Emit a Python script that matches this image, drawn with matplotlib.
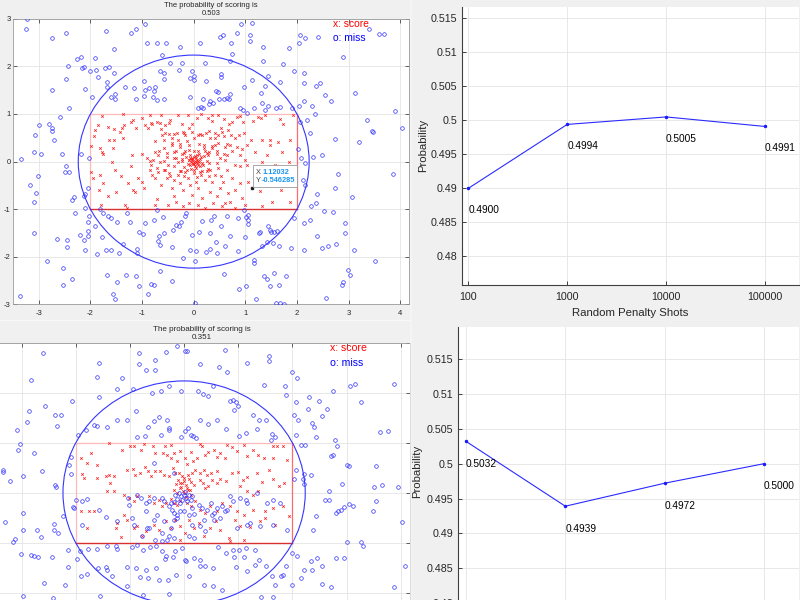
import matplotlib
matplotlib.use('Agg')
import matplotlib.pyplot as plt
from matplotlib.patches import Circle, Rectangle
from matplotlib.lines import Line2D
from matplotlib.transforms import IdentityTransform
import numpy as np

plt.rcParams['font.family'] = ['Liberation Sans', 'DejaVu Sans']
plt.rcParams['axes.unicode_minus'] = False

# ---------------- data ----------------
scoring_prob = [0.503, 0.351]

a_score = [(-1.77,0.95),(-1.37,0.99),(-1.18,0.87),(-1.22,0.83),(-1.01,0.92),(-0.85,0.98),(-0.63,0.97),(-0.46,0.87),(-0.30,0.98),(-0.12,0.97),(0.06,0.91),(0.14,0.99),(0.28,0.92),(0.36,0.97),(0.48,0.98),(0.58,0.90),(0.74,0.84),(0.90,0.96),(0.83,0.94),(0.96,0.84),(1.15,0.85),(1.24,0.94),(1.31,0.91),(1.39,0.98),(1.68,0.90),(1.72,0.78),(1.92,0.98),
(-1.92,0.66),(-1.93,0.54),(-1.86,0.77),(-1.66,0.73),(-1.54,0.68),(-1.39,0.71),(-1.35,0.77),(-1.43,0.62),(-1.64,0.45),(-1.54,0.45),(-1.37,0.49),(-1.11,0.71),(-0.94,0.77),(-0.88,0.70),(-0.83,0.80),(-0.72,0.83),(-0.63,0.69),(-0.62,0.56),(-0.56,0.77),(-0.48,0.57),(-0.43,0.49),(-0.33,0.59),(-0.31,0.45),(-0.20,0.63),(-0.17,0.55),(-0.10,0.70),(-0.04,0.63),(0.01,0.50),(0.09,0.55),(0.16,0.56),(0.23,0.59),(0.32,0.49),(0.41,0.59),(0.48,0.55),(0.54,0.63),(0.67,0.66),(0.72,0.55),(0.80,0.50),(0.87,0.55),(0.98,0.59),(1.11,0.45),(1.32,0.45),(1.48,0.45),(1.48,0.35),(1.63,0.42),(1.87,0.45),
(-1.98,0.33),(-1.82,0.28),(-1.77,0.21),(-1.75,0.15),(-1.59,0.00),(-1.56,0.28),(-1.22,-0.09),(-1.01,0.17),(-0.91,0.07),(-0.85,0.01),(-0.82,-0.07),(-0.75,0.21),(-0.69,0.14),(-0.65,0.00),(-0.57,0.28),(-0.52,0.10),(-0.49,-0.07),(-0.43,0.35),(-0.39,0.21),(-0.35,0.07),(-0.31,-0.01),(-0.27,0.31),(-0.22,0.17),(-0.17,0.22),(-0.10,0.35),(-0.07,0.14),(-0.04,0.07),
(-0.03,0.03),(0.01,0.00),(0.04,0.07),(0.06,-0.03),(0.09,0.01),(-0.01,-0.06),(-0.05,-0.01),(0.06,0.13),(0.12,0.06),(0.03,-0.10),(-0.07,-0.07),(0.08,-0.07),(0.16,-0.03),(0.00,0.10),(0.10,0.15),(-0.10,0.03),(0.02,0.02),(-0.02,-0.03),(0.05,0.00),(-0.04,0.05),(0.07,0.04),(0.00,-0.05),(0.11,-0.01),(-0.08,0.08),(0.03,0.12),(-0.12,-0.04),(0.14,0.09),(0.04,-0.14),(-0.15,0.10),(0.18,-0.08),(-0.06,-0.16),(0.20,0.12),(-0.18,-0.12),(0.25,0.02),(-0.22,0.05),(0.08,0.22),(0.12,-0.22),(-0.10,0.24),(-0.25,-0.20),(0.28,-0.15),(0.30,0.20),
(0.19,0.35),(0.22,0.22),(0.28,0.14),(0.36,0.28),(0.41,0.35),(0.45,0.17),(0.51,0.07),(0.60,0.31),(0.64,0.14),(0.71,0.35),(0.75,0.22),(0.83,0.31),(0.90,0.14),(0.94,0.27),(1.03,0.35),(0.80,-0.07),(0.90,-0.10),(1.00,0.03),(1.03,-0.08),
(-1.82,-0.28),(-1.75,-0.45),(-1.84,-0.59),(-1.79,-0.91),(-1.17,-0.59),(-1.14,-0.63),(-1.01,-0.42),(-0.96,-0.56),(-0.85,-0.17),(-0.80,-0.28),(-0.75,-0.35),(-0.69,-0.22),(-0.63,-0.49),(-0.57,-0.17),(-0.52,-0.35),(-0.48,-0.24),(-0.43,-0.56),(-0.39,-0.73),(-0.38,-0.38),(-0.30,-0.28),(-0.27,-0.45),(-0.20,-0.59),(-0.17,-0.21),(-0.12,-0.35),(-0.07,-0.49),(-0.04,-0.70),(0.01,-0.24),(0.04,-0.42),(0.09,-0.56),(0.14,-0.28),(0.17,-0.77),(0.22,-0.38),(0.25,-0.20),(0.32,-0.63),(0.36,-0.42),(0.41,-0.28),(0.45,-0.73),(0.51,-0.56),(0.56,-0.42),(0.61,-0.87),(0.67,-0.66),(0.75,-0.35),(0.80,-0.59),(0.90,-0.45),(0.93,-0.77),(1.06,-0.42),(1.00,-0.91),(1.29,-0.62),(1.48,-0.45),(1.70,-0.59),(1.87,-0.84),(1.84,-0.28),(-1.33,-0.91),(-1.30,-0.98),(-0.75,-0.91),(-0.72,-0.78),(-0.49,-0.91),(-0.35,-0.84),(-0.20,-0.94),(-0.10,-0.87),(0.09,-0.91),(0.22,-0.98),(0.38,-0.87),(0.54,-0.94),(0.71,-0.84),(0.80,-0.97),(1.32,-0.94),(1.51,-0.84),(-1.98,-0.21),(-1.95,-0.35),(-1.53,-0.17),(-1.40,-0.31),(-1.66,-0.73),(-1.50,-0.63),(-1.20,0.14),(-1.07,-0.35),(-1.27,-0.45),(1.71,0.21),(1.84,0.00),(1.58,-0.07),(1.32,0.00),(1.19,0.21),(1.42,0.14),
(-0.81,0.78),(-0.65,0.81),(-0.47,0.80),(-0.22,0.78),(-0.03,0.78),(0.36,0.85),(0.52,0.71),(0.68,0.78),(-0.55,0.60),(-0.39,0.57),(-0.19,0.60),(0.13,0.57),(0.29,0.64),(0.42,0.50),(0.58,0.53),(-0.74,0.43),(-0.58,0.46),(-0.42,0.39),(-0.26,0.36),(-0.13,0.43),(0.10,0.36),(0.19,0.29),(0.36,0.32),(0.48,0.39),(0.65,0.36),(-0.68,0.22),(-0.52,0.18),(-0.35,0.22),(-0.19,0.18),(0.00,0.22),(0.26,0.18),(0.45,0.22),(0.58,0.15),(-0.78,0.04),(-0.58,0.01),(-0.39,0.08),(-0.22,0.01),(-0.10,0.04),(0.13,-0.10),(0.29,-0.03),(0.45,-0.03),(0.61,0.04),(-0.71,-0.13),(-0.55,-0.17),(-0.39,-0.10),(-0.26,-0.20),(-0.13,-0.17),(0.00,-0.17),(0.16,-0.20),(0.32,-0.17),(0.48,-0.13),(0.65,-0.17),(-0.45,-0.31),(-0.19,-0.31),(0.07,-0.32),(0.29,-0.31),(0.52,-0.31)]

a_miss = [(-3.23,3.0),(-3.24,2.78),(-2.75,2.60),(-2.47,2.69),(-1.69,2.74),(-1.21,2.71),(-1.12,2.78),(-0.95,2.88),(-0.90,2.50),(-0.72,2.48),(-0.53,2.50),(-0.27,2.41),(-0.61,2.24),(0.13,2.48),(0.51,2.61),(0.57,2.66),(0.92,2.88),(1.13,2.90),(1.10,2.66),(1.10,2.53),(0.83,2.71),(0.72,2.50),(1.35,2.41),(1.84,2.38),(2.06,2.66),(2.16,2.59),(2.41,2.62),(2.03,2.48),(2.90,2.20),(3.40,2.78),(3.59,2.67),(3.68,2.67),
(-2.74,1.50),(-2.47,1.73),(-2.44,2.01),(-2.27,2.15),(-2.19,2.19),(-2.17,1.96),(-2.12,1.99),(-2.01,1.90),(-1.92,2.18),(-1.90,1.92),(-1.86,1.77),(-1.71,1.96),(-1.65,1.99),(-1.55,1.85),(-1.54,2.36),(-1.68,1.68),(-2.10,1.53),(-1.97,1.36),(-1.60,1.35),(-1.52,1.32),(-1.52,1.41),(-1.68,1.56),(-1.34,1.57),(-1.16,1.54),(-1.12,1.32),(-0.97,1.70),(-0.95,1.50),(-0.86,1.55),(-0.77,1.48),(-0.75,1.57),(-0.97,1.38),(-0.79,1.36),(-0.58,1.31),(-0.71,1.29),(-0.58,1.87),(-0.57,1.73),(-0.66,1.90),(-0.45,2.08),(-0.23,2.06),(-0.29,1.92),(-0.08,1.76),(0.01,1.71),(-0.03,1.90),(0.00,1.80),(-0.08,1.36),(0.22,2.06),(0.23,1.69),(0.18,1.31),(0.09,1.13),(0.14,1.15),(0.18,1.13),(0.32,1.28),(0.30,1.21),(0.37,1.24),(0.44,1.48),(0.48,1.47),(0.49,1.31),(0.58,1.31),(0.68,1.31),(0.65,1.34),(0.71,1.42),(0.52,1.84),(0.53,1.77),(0.75,2.25),(0.70,2.11),(0.97,1.56),(1.13,1.71),(1.30,1.45),(1.39,1.59),(1.34,2.12),(1.44,1.80),(1.73,2.04),(1.68,1.68),(1.95,1.90),(2.13,1.87),(2.14,1.64),(2.37,1.59),(2.45,1.64),(2.55,1.40),(2.66,1.27),(3.13,1.43),(2.29,1.17),(2.34,0.99),(2.14,1.27),(1.90,1.13),(2.03,1.17),(1.68,1.15),(1.60,1.12),(1.43,1.17),(1.32,1.24),(1.39,1.08),(1.16,1.13),(0.89,1.12),(0.95,1.08),(1.03,1.01),
(3.35,0.87),(3.90,1.06),(4.03,0.70),(3.45,0.64),(3.47,0.62),(3.21,0.41),(2.73,0.47),(2.26,0.59),(2.19,0.87),(2.05,0.84),(2.48,0.14),(2.32,0.10),(2.16,-0.03),(2.08,0.07),(2.02,0.26),(2.79,-0.27),(2.73,-0.55),(3.06,-0.75),(3.86,-0.27),(2.12,-0.38),(2.16,-0.49),(2.39,-0.69),(2.37,-0.87),(2.27,-0.94),(1.95,-1.19),(2.13,-1.29),(2.26,-1.22),(2.52,-1.03),(2.69,-1.05),(2.39,-1.56),(2.48,-1.82),(2.61,-1.77),(2.75,-1.73),(2.93,-1.50),(2.93,-1.28),(3.11,-1.85),(3.52,-2.08),(2.99,-2.27),(3.03,-2.39),(2.87,-2.59),(2.90,-2.52),(2.57,-2.87),(2.14,-1.85),(1.88,-1.82),(1.78,-2.40),(1.65,-2.59),(1.75,-2.99),(1.60,-2.96),(1.68,-2.96),(1.56,-2.33),(1.41,-2.47),(1.47,-2.62),(1.37,-2.40),(1.21,-2.89),(1.16,-2.06),(1.17,-2.13),(1.01,-2.61),(0.87,-2.68),(1.00,-1.59),(0.85,-1.87),(1.32,-1.77),(1.42,-1.69),(1.29,-1.47),(1.43,-1.36),(1.47,-1.43),(1.50,-1.47),(1.56,-1.47),(1.62,-1.45),(1.26,-1.50),(1.65,-1.78),(1.54,-1.70),(1.06,-1.22),(1.05,-1.31),(1.06,-1.12),(0.97,-1.01),(1.01,-1.17),(0.85,-1.19),(0.65,-1.14),(0.71,-1.57),(0.61,-1.78),(0.45,-1.91),(0.23,-1.89),(0.03,-2.08),(0.05,-1.87),(0.31,-1.84),(0.44,-1.68),(0.32,-1.50),(0.16,-1.24),(0.34,-1.22),(0.39,-1.15),(0.52,-1.35),(0.10,-1.47),(-0.03,-1.55),(-0.08,-1.85),(-0.21,-2.03),(-0.24,-1.26),(-0.15,-1.08),(-0.17,-1.15),(-0.29,-1.36),(-0.35,-1.34),(-0.41,-1.43),(-0.42,-1.80),(-0.58,-1.50),(-0.65,-1.75),(-0.68,-1.56),(-0.69,-1.66),(-0.76,-1.22),(-0.59,-1.17),(-0.71,-1.01),(-0.94,-1.29),(-1.05,-1.47),(-0.99,-1.52),(-1.23,-1.26),(-1.29,-1.08),(-1.10,-1.84),(-1.10,-1.92),(-1.37,-1.73),(-1.45,-1.92),(-1.69,-1.85),(-1.60,-1.85),(-1.48,-1.26),(-1.61,-1.19),(-1.66,-1.14),(-1.77,-1.59),(-1.87,-1.94),(-2.10,-1.85),(-2.05,-1.56),(-2.05,-1.45),(-2.05,-1.26),(-1.92,-1.36),(-2.13,-1.64),(-2.21,-1.54),(-2.03,-1.15),(-2.10,-0.98),(-2.10,-0.68),(-2.12,-0.73),(-2.05,-0.55),(-1.82,-1.00),(-1.75,-1.08),(-2.46,-1.64),(-2.46,-1.80),(-2.65,-1.63),(-2.29,-1.07),(-2.35,-0.80),(-2.31,-0.75),(-2.41,-0.21),(-2.48,-0.10),(-2.50,-0.21),(-2.55,0.16),(-2.19,0.17),(-2.03,0.07),(-2.58,0.94),(-2.42,1.12),(-2.74,0.65),(-2.71,0.45),(-2.81,0.78),(-2.75,0.70),(-2.99,0.77),(-3.08,0.56),(-3.10,0.21),(-2.95,0.17),(-3.34,0.06),(-3.01,-0.30),(-3.17,-0.50),(-3.06,-0.65),(-3.10,-0.84),(-3.10,-1.49),(-2.84,-2.08),(-2.54,-2.24),(-2.53,-2.60),(-2.35,-2.47),(-3.37,-2.82),(-1.68,-2.38),(-1.56,-2.78),(-1.53,-2.88),(-1.48,-2.52),(-1.32,-2.39),(-1.11,-2.41),(-1.06,-2.61),(-0.89,-2.78),(-0.83,-2.57),(-0.76,-2.59),(-0.65,-2.29),(-0.42,-2.50),(0.02,-2.96),(0.59,-2.36)]

b_score = [(-1.71,0.79),(-1.91,0.69),(-1.79,0.59),(-1.61,0.56),(-1.39,0.99),(-1.14,0.86),(-0.99,0.93),(-0.93,0.94),(-0.80,0.85),(-0.74,0.98),(-0.57,0.94),(-0.53,0.79),(-0.36,0.94),(-0.25,0.96),(-0.39,0.79),(-0.31,0.76),(-0.24,0.69),(-0.19,0.79),(-0.13,0.63),(-0.07,0.83),(0.02,0.69),(0.06,0.58),(0.12,0.81),(0.17,0.63),(0.24,0.69),(0.29,0.98),(0.33,0.93),(0.39,0.76),(0.45,0.81),(0.55,0.86),(0.60,0.71),(0.67,0.79),(0.76,0.69),(0.80,0.96),(0.88,0.91),(0.98,0.83),(1.10,0.96),(1.16,0.74),(1.28,0.85),(1.37,0.75),(1.47,0.69),(1.64,0.93),(1.72,0.94),(1.83,0.94),(1.64,0.69),(1.90,0.65),
(-1.88,0.38),(-1.85,0.29),(-1.60,0.29),(-1.45,0.34),(-1.39,0.36),(-1.29,0.33),(-1.37,0.19),(-1.42,0.03),(-1.29,0.03),(-1.05,0.45),(-0.94,0.47),(-0.90,0.36),(-0.82,0.39),(-0.73,0.51),(-0.67,0.43),(-0.62,0.34),(-0.53,0.43),(-0.45,0.43),(-0.37,0.36),(-0.28,0.33),(-0.20,0.49),(-0.16,0.39),(-0.12,0.26),(-0.08,0.19),(-0.04,0.33),(-0.01,0.23),(0.04,0.16),(0.09,0.27),(0.12,0.21),(-0.07,0.09),(-0.02,0.03),(0.02,-0.01),(0.07,0.06),(0.12,-0.04),(-0.13,-0.01),(-0.19,0.06),
(-0.05,0.12),(0.05,0.10),(0.00,0.30),(-0.10,0.40),(0.10,0.05),(-0.15,0.18),(0.18,0.15),(0.03,-0.08),(-0.03,0.20),(0.08,0.35),
(0.15,0.39),(0.21,0.46),(0.29,0.39),(0.36,0.46),(0.42,0.36),(0.50,0.39),(0.60,0.43),(0.30,0.26),(0.35,0.19),(0.39,0.09),(0.45,0.13),(0.52,0.26),(0.61,0.19),(0.67,0.27),(0.78,0.23),(0.88,0.39),(0.99,0.41),(1.09,0.26),(1.17,0.31),(1.34,0.39),(1.44,0.21),(1.56,0.45),(1.65,0.27),(1.76,0.13),(1.85,0.19),(1.04,0.13),(1.16,0.03),(1.28,-0.04),(1.37,0.03),
(-1.11,-0.04),(-1.02,-0.11),(-0.93,-0.17),(-0.87,-0.07),(-0.65,-0.07),(-0.56,-0.21),(-0.47,-0.14),(-0.40,-0.27),(-0.34,-0.21),(-0.25,-0.13),(-0.19,-0.21),(-0.13,-0.24),(-0.07,-0.17),(0.06,-0.21),(0.12,-0.27),(0.21,-0.17),(0.30,-0.34),(0.39,-0.41),(0.48,-0.27),(0.61,-0.37),(0.70,-0.21),(0.85,-0.27),(0.98,-0.37),(1.10,-0.44),(1.28,-0.34),(1.50,-0.37),(1.65,-0.31),(1.83,-0.27),(1.93,-0.47),
(-1.91,-0.37),(-1.75,-0.37),(-1.66,-0.37),(-1.79,-0.71),(-1.26,-0.71),(-1.23,-0.61),(-1.11,-0.44),(-1.05,-0.54),(-0.93,-0.71),(-0.87,-0.66),(-0.77,-0.87),(-0.71,-0.77),(-0.56,-0.64),(-0.47,-0.74),(-0.34,-0.57),(-0.25,-0.71),(-0.16,-0.54),(-0.07,-0.67),(0.02,-0.81),(0.09,-0.54),(0.18,-0.71),(0.27,-0.61),(0.36,-0.87),(0.48,-0.71),(0.58,-0.57),(0.67,-0.74),(0.82,-0.91),(0.94,-0.54),(1.04,-0.67),(1.10,-0.94),(1.22,-0.69),(1.40,-0.57),(1.50,-0.51),(1.68,-0.64),(-1.17,-0.89),(-0.07,-0.94),(0.85,-0.97)]

b_miss = [(-0.56,0.59),(-0.19,0.39),(-0.16,-0.04),(-0.10,-0.01),(-0.06,-0.07),(-0.01,-0.04),(0.04,-0.11),(0.09,-0.04),(-0.04,-0.14),(-0.13,-0.13),(0.02,0.01),(0.06,-0.17),(0.12,-0.14),(0.15,-0.07),(-0.08,-0.21),(-0.19,-0.19),(-0.25,-0.21),
(-0.87,-0.04),(-0.80,-0.11),(-1.04,-0.11),(-1.02,-0.24),(-0.71,-0.21),(-0.65,-0.17),(-0.56,-0.11),(-0.40,-0.11),(-0.37,-0.17),(-0.28,-0.27),(-0.22,-0.34),(-0.19,-0.41),(-0.13,-0.44),(-0.07,-0.37),(-0.01,-0.37),(0.09,-0.44),(0.15,-0.31),(0.19,-0.42),(0.27,-0.24),(0.33,-0.31),(0.42,-0.34),(0.50,-0.21),(0.55,-0.41),(0.61,-0.31),(0.70,-0.27),(0.79,-0.35),(0.85,-0.06),(0.91,-0.17),(1.04,-0.11),(1.15,-0.14),(1.16,-0.21),(1.34,-0.01),(1.53,-0.21),(1.65,-0.15),(1.77,-0.21),(1.90,-0.74),(1.65,-0.64),(1.40,-0.66),(1.16,-0.64),(1.22,-0.61),(0.98,-0.71),(0.76,-0.37),(0.67,-0.51),(0.52,-0.44),(0.55,-0.54),(0.36,-0.54),(0.29,-0.67),(0.39,-0.77),(0.15,-0.64),(0.09,-0.87),(0.18,-0.91),(-0.13,-0.51),(-0.19,-0.54),(-0.25,-0.71),(-0.28,-0.87),(-0.19,-0.91),(-0.40,-0.81),(-0.37,-0.57),(-0.50,-0.44),(-0.56,-0.54),(-0.71,-0.37),(-0.68,-0.71),(-0.65,-0.71),(-0.77,-0.87),(-0.93,-0.64),(-0.96,-0.51),(-1.23,-0.57),(-1.45,-0.49),(-1.57,-0.34),(-1.88,-0.64),(-1.88,-0.17),(-1.79,-0.13),(-2.00,-0.14),(-0.53,-0.94),(-0.40,-0.96),(-0.31,-0.94),
(-2.60,2.79),(-0.14,2.94),(0.01,2.84),(0.05,2.84),(-0.34,2.81),(0.75,2.85),(-0.83,2.79),(-0.83,2.57),(-0.54,2.65),(-0.70,2.45),(-0.53,2.45),(-1.57,2.59),(0.30,2.57),(0.65,2.51),(0.80,2.41),(1.17,2.59),(1.56,2.74),(1.56,2.63),(1.99,2.41),(2.08,2.29),(-2.83,2.26),(-1.60,2.31),(-1.15,2.29),(-1.24,2.07),(-2.07,1.84),(-1.57,1.91),(-0.94,2.07),(-0.42,2.03),(-0.60,1.99),(-0.28,2.13),(-0.05,2.03),(0.26,2.03),(0.35,1.98),(0.44,1.93),(0.53,2.13),(0.84,1.84),(0.90,1.86),(0.96,1.81),(0.99,1.73),(0.92,1.66),(1.48,2.16),(1.87,2.13),(1.88,1.96),(2.06,1.81),(2.30,1.91),(2.49,1.83),(2.74,2.03),(3.07,2.13),(3.15,2.17),(3.26,1.81),(3.87,2.18),(2.28,1.67),(2.63,1.67),(2.55,1.54),(2.10,1.46),(2.03,1.56),(2.37,1.39),(2.40,1.31),(2.44,1.11),(2.79,1.05),(2.82,0.94),(2.74,0.76),(2.71,0.74),(3.00,0.56),(3.05,0.53),(3.54,0.53),(3.77,1.24),(3.61,1.21),(3.94,0.11),(4.03,-0.59),(3.66,0.15),(3.51,0.11),(3.54,-0.16),(3.49,-0.36),(3.11,-0.26),(3.05,-0.23),(2.95,-0.29),(2.89,-0.34),(2.85,-0.37),(2.81,-0.41),(2.68,-0.14),(2.60,-0.14),(2.68,0.04),(2.91,0.18),(2.44,-0.47),(2.38,-0.75),(3.01,-0.99),(3.26,-0.99),(3.30,-1.06),(4.08,-1.46),(2.22,0.38),(2.34,0.36),(2.19,0.27),(2.21,0.18),(2.06,0.45),(2.03,0.27),(2.24,0.96),(2.16,0.96),(2.07,1.16),(1.63,1.18),(1.60,1.05),(1.67,1.11),(1.51,1.46),(1.39,1.46),(1.27,1.56),(1.35,1.28),(1.14,1.19),(1.02,1.13),(0.78,1.27),(0.60,1.46),(0.45,1.38),(0.29,1.45),(0.22,1.09),(0.16,1.13),(0.13,1.16),(0.07,1.29),(0.01,1.23),(-0.05,1.11),(-0.27,1.29),(-0.28,1.25),(-0.42,1.15),(-0.32,1.46),(-0.46,1.51),(-0.56,1.44),(-0.67,1.31),(-0.87,1.11),(-0.72,1.13),(-0.89,1.63),(-1.06,1.46),(-1.24,1.45),(-1.43,1.31),(-1.60,1.33),(-1.66,1.35),(-1.81,1.26),(-1.96,1.16),(-2.09,0.71),(-2.12,0.56),(-2.09,0.38),(-2.38,0.15),(-2.36,0.12),(-2.41,-0.62),(-2.32,-0.81),(-2.06,-0.28),(-2.04,-0.31),(-2.23,-0.47),(-2.97,0.33),(-2.97,-0.41),(-3.06,0.86),(-3.03,0.98),(-3.09,1.26),(-2.78,0.79),(-2.63,0.44),(-2.57,1.73),(-2.87,1.63),(-2.90,1.41),(-2.38,1.55),(-2.27,1.56),(-2.35,1.33),(-3.35,0.46),(-3.35,0.41),(-3.21,0.23),(-3.30,-0.59),(-3.12,-0.92),(-3.15,-0.99),(-2.98,-0.74),(-2.72,-0.75),(-2.64,-0.89),(-2.41,-0.75),(-3.01,-1.23),(-2.83,-1.24),(-2.78,-1.27),(-2.70,-1.29),(-2.44,-1.29),(-2.58,-1.81),(-2.20,-1.84),(-2.14,-1.49),(-2.14,-1.14),(-1.98,-1.33),(-1.92,-1.17),(-1.77,-1.13),(-1.60,-1.13),(-1.42,-1.07),(-1.26,-1.07),(-1.24,-1.13),(-1.59,-1.51),(-1.44,-1.49),(-1.42,-1.54),(-1.79,-1.62),(-1.91,-1.67),(-1.33,-1.67),(-1.06,-1.49),(-0.97,-1.09),(-0.87,-1.04),(-0.75,-1.14),(-0.63,-1.09),(-0.51,-1.07),(-0.40,-1.17),(-0.36,-1.33),(-0.33,-1.26),(-0.88,-1.51),(-0.71,-1.54),(-0.82,-1.69),(-0.67,-1.71),(-0.51,-1.51),(-0.47,-1.74),(-0.17,-1.17),(-0.21,-1.29),(-0.03,-1.11),(0.01,-1.34),(0.03,-1.37),(0.19,-1.31),(0.29,-1.34),(0.29,-1.47),(0.39,-1.47),(0.53,-1.51),(0.09,-1.67),(-0.15,-1.65),(-0.30,-1.74),(0.53,-1.87),(0.70,-1.95),(0.36,-1.84),(0.62,-1.09),(0.78,-1.21),(0.90,-1.14),(1.02,-1.14),(1.14,-1.11),(1.30,-1.14),(1.39,-1.34),(1.30,-1.44),(0.93,-1.29),(1.10,-1.29),(0.96,-1.49),(1.17,-1.57),(1.51,-1.46),(1.62,-1.66),(1.67,-1.84),(1.82,-1.64),(1.88,-1.47),(2.00,-1.21),(2.08,-1.27),(2.34,-1.37),(2.46,-1.31),(2.55,-1.47),(2.80,-1.31),(2.95,-1.31),(2.21,-1.55),(2.37,-1.55),(2.16,-1.71),(2.00,-1.84),(1.79,-1.66),(2.55,-1.83),(2.71,-1.89),(3.87,-1.89),(-2.97,-2.07),(-2.42,-2.11),(-1.56,-2.07),(-1.06,-1.87),(-0.75,-2.04),(-0.27,-2.02),(1.42,-2.09),(1.65,-2.09)]

datatip_point = (1.12032, -0.546285)

shots = [100, 1000, 10000, 100000]
shot_labels = ['100', '1000', '10000', '100000']
prob_top = [0.4900, 0.4994, 0.5005, 0.4991]
prob_bottom = [0.5032, 0.4939, 0.4972, 0.5000]
prob_ticks = [0.48, 0.485, 0.49, 0.495, 0.5, 0.505, 0.51, 0.515]
prob_tick_labels = ['0.48', '0.485', '0.49', '0.495', '0.5', '0.505', '0.51', '0.515']

# ---------------- figure ----------------
W, H = 800, 600
fig = plt.figure(figsize=(8, 6), dpi=100, facecolor='#f0f0f0')
TXT = '#262626'


def px_axes(l, t, r, b):
    return fig.add_axes([l / W, 1 - b / H, (r - l) / W, (b - t) / H])


def scatter_panel(ax, score, miss, prob, tfs, lfs, show_ticklabels):
    ax.set_xlim(-3.5, 4.17)
    ax.set_ylim(-3, 3)
    ax.set_xticks(range(-3, 5))
    ax.set_yticks(range(-3, 4))
    ax.grid(True, color='#e4e4e4', lw=0.6)
    ax.set_axisbelow(True)
    ax.tick_params(direction='in', length=3, width=0.5, colors=TXT,
                   labelsize=5.5, top=True, right=True)
    ax.tick_params(axis='x', pad=4)
    ax.tick_params(axis='y', pad=1.8)
    if not show_ticklabels:
        ax.tick_params(labelbottom=False, labelleft=False)
    for s in ax.spines.values():
        s.set_color('#9a9a9a')
        s.set_linewidth(0.6)
    # goal rectangle (edges)
    gx0, gx1, gy0, gy1 = -2, 2, -1, 1
    ax.plot([gx0, gx0], [gy0, gy1], color='#ffb8b8', lw=0.9, zorder=2)
    ax.plot([gx0, gx1], [gy1, gy1], color='#ffb8b8', lw=0.9, zorder=2)
    ax.plot([gx1, gx1], [gy0, gy1], color='#ff6a6a', lw=0.9, zorder=2)
    ax.plot([gx0, gx1], [gy0, gy0], color='#d83030', lw=1.0, zorder=2)
    ax.add_patch(Circle((0, 0), np.hypot(gx1, gy1), fill=False,
                        ec='#3535ff', lw=0.8, zorder=2))
    sx, sy = zip(*score)
    mx, my = zip(*miss)
    ax.plot(sx, sy, 'x', color='#ff2020', ms=1.8, mew=0.55, zorder=3)
    ax.plot(mx, my, 'o', mfc='none', mec='#3030ff', ms=2.6, mew=0.5, zorder=4)
    ax.set_title(f'The probability of scoring is\n{prob:.3f}', fontsize=tfs,
                 color=TXT, pad=2.8, linespacing=1.15)
    ax.text(2.7, 2.89, 'x: score', color='red', fontsize=lfs, va='center', zorder=5)
    ax.text(2.7, 2.60, 'o: miss', color='blue', fontsize=lfs, va='center', zorder=5)


# top-left scatter
axA = px_axes(13, 18.7, 409, 304.5)
scatter_panel(axA, a_score, a_miss, scoring_prob[0], 5.5, 7.4, True)

# datatip
axA.plot(*datatip_point, 's', color='#202020', ms=1.8, zorder=7)
fig.canvas.draw()
px, py = axA.transData.transform(datatip_point)
axA.add_patch(Rectangle((px + 1.7, py + 1), 44, 21.7, transform=IdentityTransform(),
                        fc='white', ec='#9a9a9a', lw=0.6, zorder=8, clip_on=False))
for dy, lab, val in [(15.3, 'X', f'{datatip_point[0]:g}'), (7.0, 'Y', f'{datatip_point[1]:g}')]:
    axA.text(px + 4.5, py + dy, lab, transform=IdentityTransform(), fontsize=5.3,
             color='#404040', va='center', zorder=9)
    axA.text(px + 10.5, py + dy, val, transform=IdentityTransform(), fontsize=5.3,
             color='#1a96f0', weight='bold', va='center', zorder=9)

# bottom-left scatter (its tick labels are cut off in the screenshot)
axB = px_axes(-5.5, 342.7, 410, 643)
scatter_panel(axB, b_score, b_miss, scoring_prob[1], 5.8, 7.6, False)
axB.spines['right'].set_color('#404040')


def line_panel(ax, probs, ylim, xlim, xlabel, ylab_x):
    ax.set_xscale('log')
    ax.set_xlim(*xlim)
    ax.set_ylim(*ylim)
    ax.plot(shots, probs, '-', color='#2b2bff', lw=0.8, zorder=3)
    ax.plot(shots, probs, '.', color='#1a1aff', ms=3, zorder=4)
    for xv, yv in zip(shots, probs):
        ax.text(xv, yv - 0.0032, f'{yv:.4f}', fontsize=7.3, color='black',
                ha='left', va='center', zorder=5)
    ax.set_xticks(shots)
    ax.set_xticklabels(shot_labels)
    ax.xaxis.set_minor_locator(matplotlib.ticker.NullLocator())
    ax.set_yticks(prob_ticks)
    ax.set_yticklabels(prob_tick_labels)
    ax.grid(True, color='#e4e4e4', lw=0.6)
    ax.set_axisbelow(True)
    ax.tick_params(direction='in', length=3, width=0.6, colors=TXT, labelsize=7.7)
    ax.tick_params(axis='y', pad=3.5)
    ax.tick_params(axis='x', pad=5)
    for k in ['top', 'right']:
        ax.spines[k].set_visible(False)
    for k in ['left', 'bottom']:
        ax.spines[k].set_color('#404040')
        ax.spines[k].set_linewidth(0.8)
    ax.set_ylabel('Probability', fontsize=8.2, color=TXT, va='center')
    ax.yaxis.set_label_coords(ylab_x, 0.5)
    if xlabel:
        ax.set_xlabel(xlabel, fontsize=8.2, color=TXT, va='center')
        ax.xaxis.set_label_coords(0.5, -0.1)
    else:
        ax.tick_params(labelbottom=False)


axC = px_axes(462.3, 6.7, 799, 285)
line_panel(axC, prob_top, (0.4758, 0.5167), (10 ** (2 - 6 / 99), 10 ** (5 + 34 / 99)),
           'Random Penalty Shots', -0.117)

axD = px_axes(458.3, 327, 799, 616.4)
line_panel(axD, prob_bottom, (0.4781, 0.5196), (10 ** (2 - 7.7 / 99.3), 10 ** (5 + 35 / 99.3)),
           None, -0.122)

# screenshot separators
fig.add_artist(Line2D([0, 410 / W], [1 - 320 / H] * 2, color='#f8f8f8', lw=1.0,
                      transform=fig.transFigure))
fig.add_artist(Line2D([411 / W] * 2, [0, 1], color='#f6f6f6', lw=1.2,
                      transform=fig.transFigure))

fig.savefig('out.png', dpi=100, facecolor=fig.get_facecolor())
